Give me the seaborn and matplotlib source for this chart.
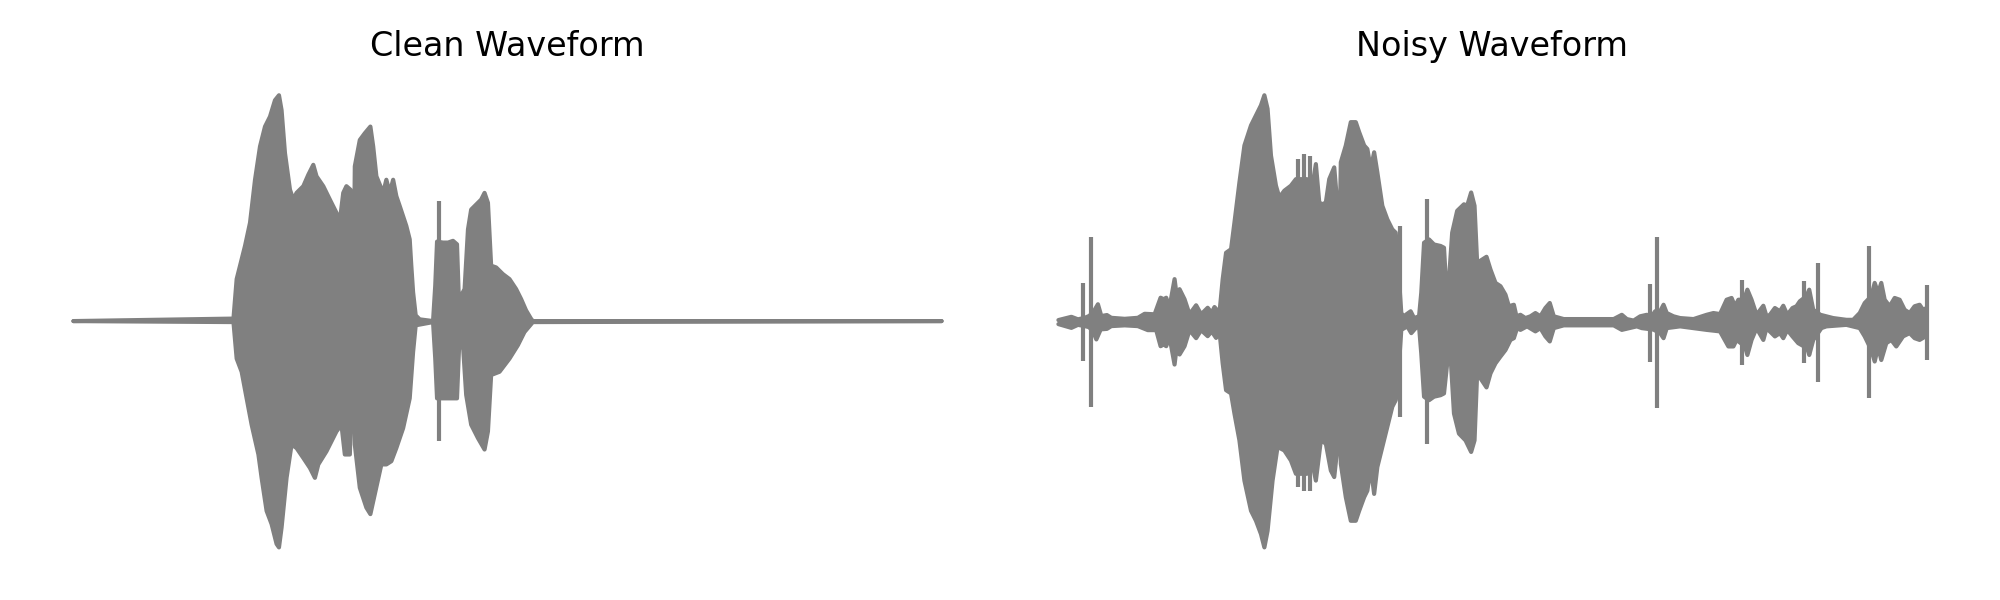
import seaborn as sns
import matplotlib.pyplot as plt
import numpy as np

# waveform envelopes: (time in s, amplitude)
clean_upper = [
    (0.0, 0.0), (0.802, 0.01), (0.818, 0.169), (0.835, 0.223), (0.86, 0.303), (0.885, 0.396),
    (0.91, 0.569), (0.935, 0.703), (0.96, 0.783), (0.985, 0.823), (1.01, 0.889), (1.03, 0.909),
    (1.043, 0.849), (1.06, 0.676), (1.085, 0.529), (1.102, 0.489), (1.118, 0.516), (1.152, 0.543),
    (1.177, 0.589), (1.202, 0.629), (1.218, 0.583), (1.252, 0.543), (1.285, 0.489), (1.318, 0.436),
    (1.335, 0.403), (1.352, 0.516), (1.368, 0.543), (1.388, 0.529), (1.398, 0.203), (1.405, 0.203),
    (1.41, 0.623), (1.435, 0.729), (1.46, 0.756), (1.488, 0.783), (1.502, 0.703), (1.518, 0.583),
    (1.552, 0.516), (1.568, 0.569), (1.585, 0.516), (1.602, 0.569), (1.618, 0.503), (1.635, 0.463),
    (1.668, 0.383), (1.685, 0.329), (1.693, 0.223), (1.702, 0.116), (1.715, 0.023), (1.735, 0.007),
    (1.802, 0.0), (1.813, 0.143), (1.822, 0.32), (1.852, 0.316), (1.877, 0.316), (1.902, 0.323),
    (1.922, 0.309), (1.93, 0.116), (1.943, 0.103), (1.96, 0.129), (1.977, 0.369), (1.993, 0.449),
    (2.018, 0.469), (2.043, 0.489), (2.06, 0.516), (2.077, 0.476), (2.093, 0.223), (2.118, 0.216),
    (2.152, 0.189), (2.185, 0.169), (2.218, 0.129), (2.243, 0.089), (2.268, 0.043), (2.293, 0.009),
    (2.302, 0.0), (4.35, 0.0),
]
clean_lower = [
    (0.0, 0.0), (0.802, -0.004), (0.818, -0.151), (0.843, -0.204), (0.868, -0.311), (0.893, -0.417),
    (0.927, -0.537), (0.943, -0.631), (0.968, -0.764), (0.993, -0.817), (1.018, -0.897), (1.03, -0.911),
    (1.043, -0.831), (1.068, -0.631), (1.093, -0.497), (1.118, -0.511), (1.152, -0.551), (1.185, -0.591),
    (1.21, -0.631), (1.227, -0.577), (1.268, -0.524), (1.318, -0.444), (1.343, -0.417), (1.36, -0.537),
    (1.385, -0.537), (1.398, -0.204), (1.405, -0.204), (1.41, -0.497), (1.435, -0.671), (1.468, -0.751),
    (1.488, -0.777), (1.51, -0.697), (1.543, -0.577), (1.568, -0.577), (1.593, -0.564), (1.618, -0.511),
    (1.652, -0.431), (1.685, -0.311), (1.702, -0.124), (1.715, -0.017), (1.802, -0.004), (1.813, -0.151),
    (1.822, -0.311), (1.848, -0.311), (1.877, -0.311), (1.922, -0.311), (1.932, -0.111), (1.952, -0.097),
    (1.968, -0.297), (1.993, -0.417), (2.027, -0.471), (2.06, -0.517), (2.077, -0.444), (2.093, -0.217),
    (2.135, -0.204), (2.185, -0.151), (2.227, -0.097), (2.26, -0.044), (2.302, -0.004), (4.35, 0.0),
]
# narrow clicks: (time, top, bottom)
clean_spikes = [(1.832, 0.483, -0.484)]

noisy_upper = [
    (0.0, 0.008), (0.065, 0.021), (0.098, 0.011), (0.132, 0.017), (0.153, 0.024), (0.173, 0.037),
    (0.198, 0.071), (0.215, 0.024), (0.243, 0.028), (0.265, 0.017), (0.332, 0.013), (0.398, 0.017),
    (0.432, 0.033), (0.482, 0.031), (0.512, 0.097), (0.528, 0.091), (0.54, 0.097), (0.557, 0.06),
    (0.582, 0.171), (0.595, 0.091), (0.607, 0.131), (0.632, 0.091), (0.657, 0.031), (0.69, 0.067),
    (0.715, 0.031), (0.748, 0.057), (0.768, 0.037), (0.782, 0.06), (0.807, 0.036), (0.823, 0.17),
    (0.84, 0.276), (0.865, 0.29), (0.882, 0.396), (0.907, 0.556), (0.932, 0.703), (0.965, 0.783),
    (0.99, 0.823), (1.015, 0.863), (1.032, 0.903), (1.048, 0.849), (1.065, 0.663), (1.09, 0.543),
    (1.107, 0.496), (1.132, 0.523), (1.165, 0.543), (1.19, 0.569), (1.215, 0.569), (1.245, 0.569),
    (1.273, 0.543), (1.29, 0.629), (1.307, 0.476), (1.323, 0.469), (1.34, 0.476), (1.357, 0.569),
    (1.382, 0.616), (1.398, 0.463), (1.407, 0.223), (1.415, 0.636), (1.44, 0.703), (1.465, 0.796),
    (1.49, 0.796), (1.507, 0.756), (1.532, 0.703), (1.548, 0.689), (1.565, 0.609), (1.582, 0.676),
    (1.598, 0.596), (1.623, 0.463), (1.648, 0.409), (1.673, 0.369), (1.69, 0.356), (1.698, 0.276),
    (1.718, 0.036), (1.73, 0.023), (1.765, 0.043), (1.782, 0.016), (1.807, 0.023), (1.818, 0.116),
    (1.832, 0.316), (1.857, 0.329), (1.882, 0.309), (1.915, 0.303), (1.932, 0.296), (1.94, 0.183),
    (1.957, 0.169), (1.973, 0.356), (1.998, 0.443), (2.032, 0.469), (2.048, 0.463), (2.068, 0.516),
    (2.085, 0.463), (2.098, 0.236), (2.145, 0.26), (2.165, 0.209), (2.19, 0.156), (2.215, 0.143),
    (2.24, 0.109), (2.257, 0.063), (2.282, 0.069), (2.295, 0.023), (2.315, 0.029), (2.34, 0.016),
    (2.365, 0.023), (2.39, 0.036), (2.415, 0.023), (2.44, 0.056), (2.462, 0.076), (2.482, 0.023),
    (2.532, 0.012), (2.615, 0.012), (2.698, 0.012), (2.782, 0.012), (2.823, 0.029), (2.848, 0.012),
    (2.882, 0.006), (2.915, 0.023), (2.948, 0.029), (2.973, 0.023), (2.99, 0.043), (3.015, 0.043),
    (3.032, 0.069), (3.048, 0.036), (3.082, 0.023), (3.115, 0.016), (3.182, 0.012), (3.248, 0.029),
    (3.282, 0.036), (3.315, 0.032), (3.348, 0.089), (3.373, 0.096), (3.39, 0.063), (3.407, 0.089),
    (3.435, 0.089), (3.452, 0.129), (3.473, 0.089), (3.498, 0.029), (3.532, 0.065), (3.548, 0.023),
    (3.565, 0.029), (3.59, 0.056), (3.615, 0.043), (3.632, 0.065), (3.652, 0.029), (3.678, 0.056),
    (3.698, 0.063), (3.715, 0.083), (3.748, 0.103), (3.762, 0.129), (3.782, 0.049), (3.818, 0.029),
    (3.848, 0.023), (3.882, 0.016), (3.948, 0.009), (3.982, 0.009), (4.015, 0.036), (4.04, 0.076),
    (4.073, 0.103), (4.09, 0.156), (4.107, 0.116), (4.123, 0.156), (4.14, 0.089), (4.165, 0.063),
    (4.19, 0.096), (4.215, 0.089), (4.24, 0.049), (4.265, 0.036), (4.29, 0.063), (4.315, 0.069),
    (4.332, 0.049), (4.35, 0.056),
]
noisy_lower = [
    (0.0, -0.008), (0.065, -0.023), (0.098, -0.011), (0.132, -0.016), (0.153, -0.02), (0.173, -0.036),
    (0.19, -0.069), (0.212, -0.029), (0.243, -0.027), (0.265, -0.016), (0.332, -0.013), (0.398, -0.016),
    (0.448, -0.032), (0.49, -0.032), (0.512, -0.096), (0.528, -0.089), (0.54, -0.096), (0.557, -0.06),
    (0.582, -0.169), (0.595, -0.083), (0.607, -0.129), (0.632, -0.096), (0.657, -0.032), (0.69, -0.064),
    (0.715, -0.032), (0.748, -0.056), (0.768, -0.037), (0.79, -0.063), (0.807, -0.037), (0.823, -0.164),
    (0.84, -0.271), (0.865, -0.284), (0.882, -0.364), (0.907, -0.471), (0.932, -0.631), (0.965, -0.751),
    (0.99, -0.791), (1.015, -0.844), (1.032, -0.897), (1.048, -0.831), (1.073, -0.631), (1.098, -0.497),
    (1.132, -0.511), (1.165, -0.551), (1.19, -0.604), (1.215, -0.604), (1.245, -0.604), (1.273, -0.564),
    (1.29, -0.631), (1.315, -0.471), (1.34, -0.484), (1.365, -0.591), (1.382, -0.617), (1.398, -0.497),
    (1.407, -0.217), (1.415, -0.564), (1.44, -0.697), (1.465, -0.791), (1.49, -0.791), (1.507, -0.751),
    (1.532, -0.697), (1.548, -0.671), (1.565, -0.577), (1.582, -0.684), (1.598, -0.577), (1.623, -0.497),
    (1.648, -0.417), (1.673, -0.337), (1.69, -0.311), (1.698, -0.271), (1.718, -0.031), (1.748, -0.017),
    (1.768, -0.044), (1.79, -0.024), (1.807, -0.017), (1.818, -0.124), (1.832, -0.297), (1.857, -0.311),
    (1.882, -0.297), (1.915, -0.291), (1.932, -0.284), (1.948, -0.164), (1.965, -0.137), (1.982, -0.364),
    (2.007, -0.444), (2.04, -0.471), (2.068, -0.517), (2.085, -0.471), (2.098, -0.204), (2.145, -0.26),
    (2.165, -0.204), (2.19, -0.164), (2.215, -0.137), (2.24, -0.111), (2.265, -0.071), (2.282, -0.064),
    (2.298, -0.024), (2.315, -0.031), (2.348, -0.017), (2.39, -0.037), (2.415, -0.024), (2.44, -0.057),
    (2.462, -0.077), (2.482, -0.024), (2.532, -0.013), (2.615, -0.013), (2.698, -0.013), (2.782, -0.013),
    (2.823, -0.031), (2.898, -0.017), (2.923, -0.024), (2.982, -0.03), (3.015, -0.044), (3.032, -0.064),
    (3.048, -0.024), (3.115, -0.017), (3.248, -0.031), (3.315, -0.037), (3.357, -0.097), (3.382, -0.097),
    (3.398, -0.071), (3.44, -0.097), (3.452, -0.131), (3.473, -0.071), (3.498, -0.024), (3.532, -0.071),
    (3.548, -0.024), (3.59, -0.057), (3.615, -0.044), (3.632, -0.064), (3.652, -0.031), (3.678, -0.057),
    (3.707, -0.084), (3.752, -0.104), (3.762, -0.131), (3.782, -0.071), (3.823, -0.024), (3.848, -0.017),
    (3.948, -0.011), (4.015, -0.024), (4.04, -0.057), (4.073, -0.111), (4.09, -0.157), (4.107, -0.097),
    (4.123, -0.151), (4.148, -0.084), (4.173, -0.071), (4.198, -0.097), (4.232, -0.057), (4.265, -0.044),
    (4.29, -0.064), (4.315, -0.071), (4.345, -0.057), (4.35, -0.06),
]
noisy_spikes = [
    (0.123, 0.155, -0.155), (0.163, 0.34, -0.339), (1.202, 0.649, -0.657), (1.232, 0.669, -0.671),
    (1.262, 0.663, -0.671), (1.71, 0.383, -0.377), (1.845, 0.489, -0.484), (2.962, 0.152, -0.157),
    (3.0, 0.339, -0.344), (3.423, 0.169, -0.171), (3.737, 0.163, -0.164), (3.807, 0.236, -0.237),
    (4.062, 0.303, -0.304), (4.35, 0.149, -0.151),
]

panels = [
    ("Clean Waveform", clean_upper, clean_lower, clean_spikes),
    ("Noisy Waveform", noisy_upper, noisy_lower, noisy_spikes),
]

sns.set_style("white")
fig, axes = plt.subplots(1, 2, figsize=(10, 3), dpi=200)

for ax, (title, upper, lower, spikes) in zip(axes, panels):
    tu, au = map(np.array, zip(*upper))
    tl, al = map(np.array, zip(*lower))
    ax.fill_between(tu, 0, au, color="gray", linewidth=0.5)
    ax.fill_between(tl, al, 0, color="gray", linewidth=0.5)
    sns.lineplot(x=tu, y=au, ax=ax, color="gray", linewidth=1.5,
                 estimator=None, sort=False, solid_capstyle="round")
    sns.lineplot(x=tl, y=al, ax=ax, color="gray", linewidth=1.5,
                 estimator=None, sort=False, solid_capstyle="round")
    ts, top, bot = zip(*spikes)
    ax.vlines(ts, bot, top, color="gray", linewidth=1.5)
    ax.set_title(title, fontsize=12, color="black")
    ax.axis("off")

plt.tight_layout()
plt.savefig("out.png", dpi=200)
plt.close()
